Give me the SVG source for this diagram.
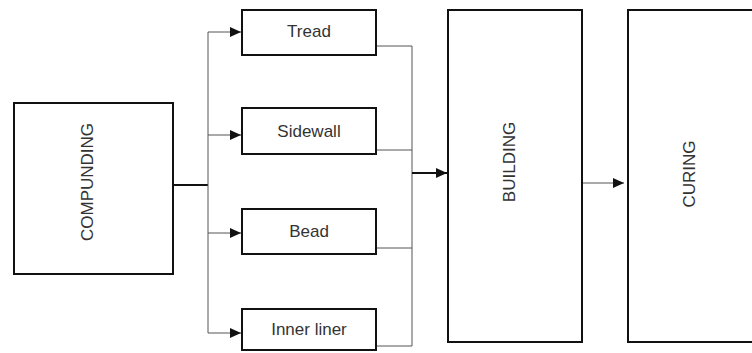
<svg xmlns="http://www.w3.org/2000/svg" width="752" height="353" viewBox="0 0 752 353">
<style>
.box{fill:#fff;stroke:#111;stroke-width:2}
.lbl{font-family:"Liberation Sans",Arial,sans-serif;font-size:17px;fill:#333;text-anchor:middle}
.thin{fill:none;stroke:#555;stroke-width:1}
.thick{fill:none;stroke:#111;stroke-width:2}
</style>
<defs>
<marker id="ah" markerUnits="userSpaceOnUse" markerWidth="12" markerHeight="10" refX="11" refY="5" orient="auto">
<path d="M0,0 L11,5 L0,10 Z" fill="#111"/>
</marker>
</defs>
<rect width="752" height="353" fill="#fff"/>
<g id="connectors">
<path class="thick" d="M173 185 H208"/>
<path class="thin" d="M208 32 V333"/>
<path class="thin" d="M208 32 H241" marker-end="url(#ah)"/>
<path class="thin" d="M208 135 H241" marker-end="url(#ah)"/>
<path class="thin" d="M208 233 H241" marker-end="url(#ah)"/>
<path class="thin" d="M208 333 H241" marker-end="url(#ah)"/>
<path class="thin" d="M376 46 H412 V346 H376"/>
<path class="thin" d="M376 150 H412"/>
<path class="thin" d="M376 248 H412"/>
<path class="thick" d="M412 173 H447" marker-end="url(#ah)"/>
<path class="thin" d="M582 183 H624" marker-end="url(#ah)"/>
</g>
<g id="compunding">
<rect class="box" x="14" y="103" width="159" height="171"/>
<text class="lbl" transform="translate(93,182) rotate(-90)">COMPUNDING</text>
</g>
<g id="tread">
<rect class="box" x="242" y="10" width="134" height="45"/>
<text class="lbl" x="309" y="37">Tread</text>
</g>
<g id="sidewall">
<rect class="box" x="242" y="108" width="134" height="46"/>
<text class="lbl" x="309" y="137">Sidewall</text>
</g>
<g id="bead">
<rect class="box" x="242" y="209" width="134" height="45"/>
<text class="lbl" x="309" y="237">Bead</text>
</g>
<g id="innerliner">
<rect class="box" x="242" y="309" width="134" height="41"/>
<text class="lbl" x="309" y="335">Inner liner</text>
</g>
<g id="building">
<rect class="box" x="448" y="10" width="134" height="332"/>
<text class="lbl" transform="translate(515,162) rotate(-90)">BUILDING</text>
</g>
<g id="curing">
<rect class="box" x="628" y="10" width="140" height="332"/>
<text class="lbl" transform="translate(695,174) rotate(-90)">CURING</text>
</g>
</svg>
